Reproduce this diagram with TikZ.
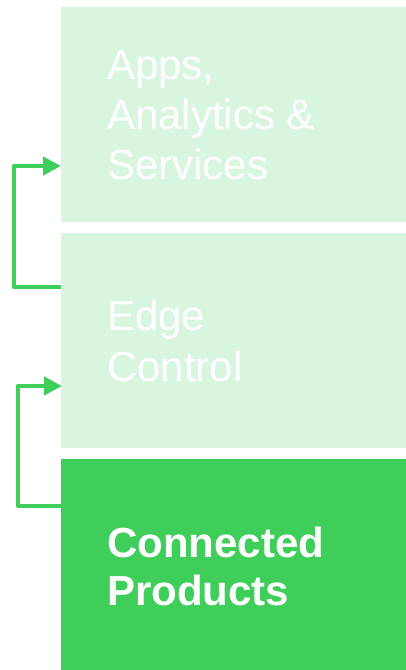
\documentclass[tikz,border=0pt]{standalone}
\usepackage{fontspec}
\setmainfont{Liberation Sans}
\usetikzlibrary{arrows.meta}
\definecolor{lightg}{HTML}{D8F5DF}
\definecolor{darkg}{HTML}{3FCE5A}
\begin{document}
\begin{tikzpicture}[x=1pt,y=-1pt,
  box/.style={anchor=north west,minimum width=345pt,inner sep=0pt,outer sep=0pt,draw=none},
  lbl/.style={anchor=base west,inner sep=0pt,text=white,align=left,font=\fontsize{42}{50}\selectfont},
  arr/.style={draw=darkg,line width=4.5pt,line join=round,-{Triangle[length=18pt,width=18pt]}}]
\useasboundingbox (0,0) rectangle (406,670);
\node[box,fill=lightg,minimum height=215pt] (top) at (61,7) {};
\node[box,fill=lightg,minimum height=215pt] (mid) at (61,233) {};
\node[box,fill=darkg,minimum height=211pt] (bot) at (61,459) {};
\node[lbl] (t1) at (107,179) {Apps,\\Analytics \&\\Services};
\node[lbl,font=\fontsize{42}{51}\selectfont] (t2) at (107,381) {Edge\\Control};
\node[lbl,font=\fontsize{42}{48}\selectfont\bfseries] (t3) at (107,605) {Connected\\Products};
\draw[arr] ([yshift=-54pt]mid.north west) -- ++(-47,0) |- ([yshift=-159pt]top.north west);
\draw[arr] ([yshift=-47pt]bot.north west) -- ++(-43,0) |- ([yshift=-153pt,xshift=1pt]mid.north west);
\end{tikzpicture}
\end{document}
